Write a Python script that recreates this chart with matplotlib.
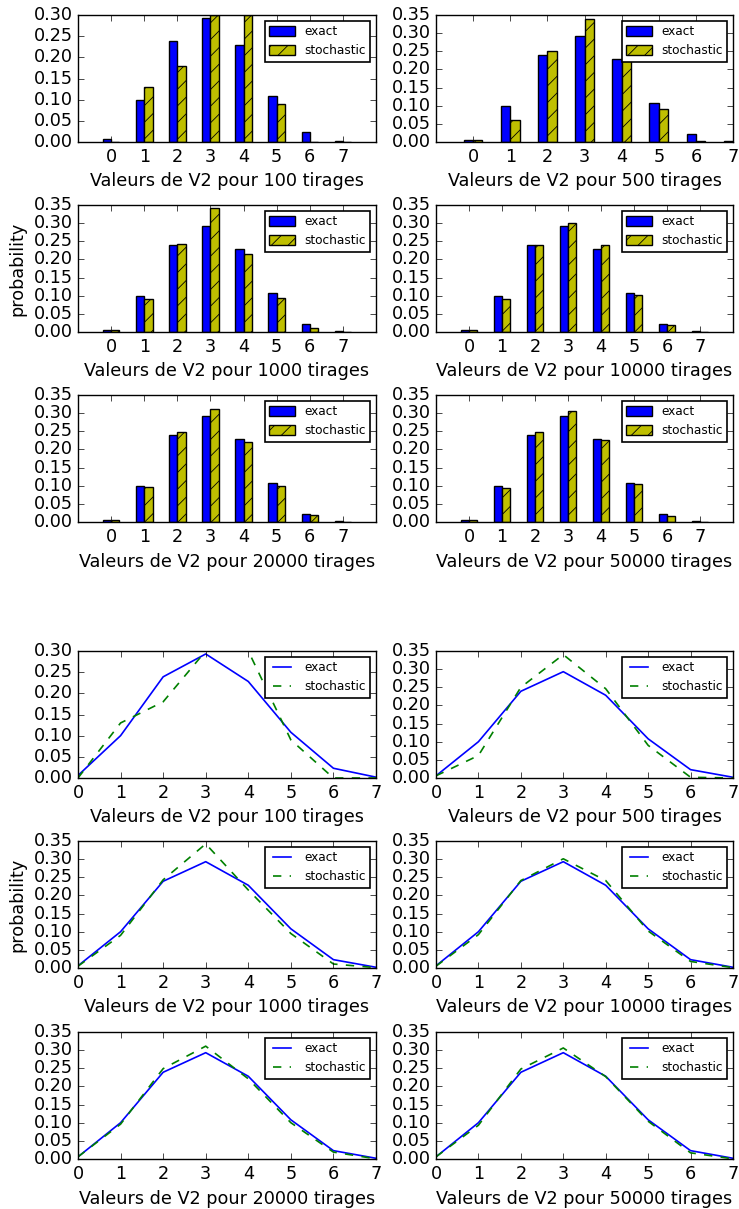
import matplotlib
matplotlib.use("Agg")
import matplotlib.pyplot as plt
import numpy as np

plt.style.use("classic")
plt.rcParams["font.size"] = 12.7
plt.rcParams["hatch.linewidth"] = 0.6

values = np.arange(8)
tirages = [100, 500, 1000, 10000, 20000, 50000]

exact = [0.006, 0.100, 0.239, 0.293, 0.228, 0.108, 0.023, 0.002]

stoch_100 = [0.000, 0.130, 0.180, 0.300, 0.300, 0.090, 0.000, 0.000]
stoch_500 = [0.006, 0.062, 0.250, 0.340, 0.246, 0.090, 0.002, 0.000]
stoch_1000 = [0.005, 0.090, 0.243, 0.342, 0.215, 0.095, 0.011, 0.001]
stoch_10000 = [0.005, 0.092, 0.241, 0.301, 0.241, 0.102, 0.018, 0.001]
stoch_20000 = [0.006, 0.096, 0.249, 0.311, 0.221, 0.100, 0.019, 0.0005]
stoch_50000 = [0.006, 0.093, 0.248, 0.306, 0.227, 0.104, 0.017, 0.0005]

stochastic = [stoch_100, stoch_500, stoch_1000, stoch_10000, stoch_20000, stoch_50000]
ymax = [0.30, 0.35, 0.35, 0.35, 0.35, 0.35]
bar_xmax = [8, 7, 8, 8, 8, 8]

W, H = 739, 1209
fig = plt.figure(figsize=(W / 100, H / 100), dpi=100, facecolor="white")

col_left = [78, 436]
col_width = [298, 297]
bar_tops = [15, 205, 395]
line_tops = [651, 841, 1032]
ax_h = 127


def make_ax(i, tops):
    row, col = divmod(i, 2)
    left = col_left[col]
    top = tops[row]
    return fig.add_axes([left / W, 1 - (top + ax_h) / H, col_width[col] / W, ax_h / H])


def add_legend(ax):
    leg = ax.legend(loc="upper right", fontsize=8.7, borderaxespad=0.5,
                    handlelength=2.1, handleheight=0.8, borderpad=0.35,
                    labelspacing=0.5, handletextpad=0.8)
    leg.get_frame().set_linewidth(1.2)


w = 0.25
for i, (n, st) in enumerate(zip(tirages, stochastic)):
    ax = make_ax(i, bar_tops)
    ax.bar(values - w, exact, w, align="edge", color="b", edgecolor="k", label="exact")
    ax.bar(values, st, w, align="edge", color="y", edgecolor="k", hatch="//",
           label="stochastic")
    ax.set_xlim(-1, bar_xmax[i])
    ax.set_ylim(0, ymax[i])
    ax.set_xticks(values)
    ax.set_yticks(np.arange(0, ymax[i] + 0.001, 0.05))
    ax.set_xlabel(f"Valeurs de V2 pour {n} tirages")
    if i == 2:
        ax.set_ylabel("probability")
    add_legend(ax)

for i, (n, st) in enumerate(zip(tirages, stochastic)):
    ax = make_ax(i, line_tops)
    ax.plot(values, exact, "b-", lw=1.2, label="exact")
    ax.plot(values, st, "g--", lw=1.2, label="stochastic")
    ax.set_xlim(0, 7)
    ax.set_ylim(0, ymax[i])
    ax.set_xticks(values)
    ax.set_yticks(np.arange(0, ymax[i] + 0.001, 0.05))
    ax.set_xlabel(f"Valeurs de V2 pour {n} tirages")
    if i == 2:
        ax.set_ylabel("probability")
    add_legend(ax)

fig.savefig("out.png", dpi=100, facecolor="white")
